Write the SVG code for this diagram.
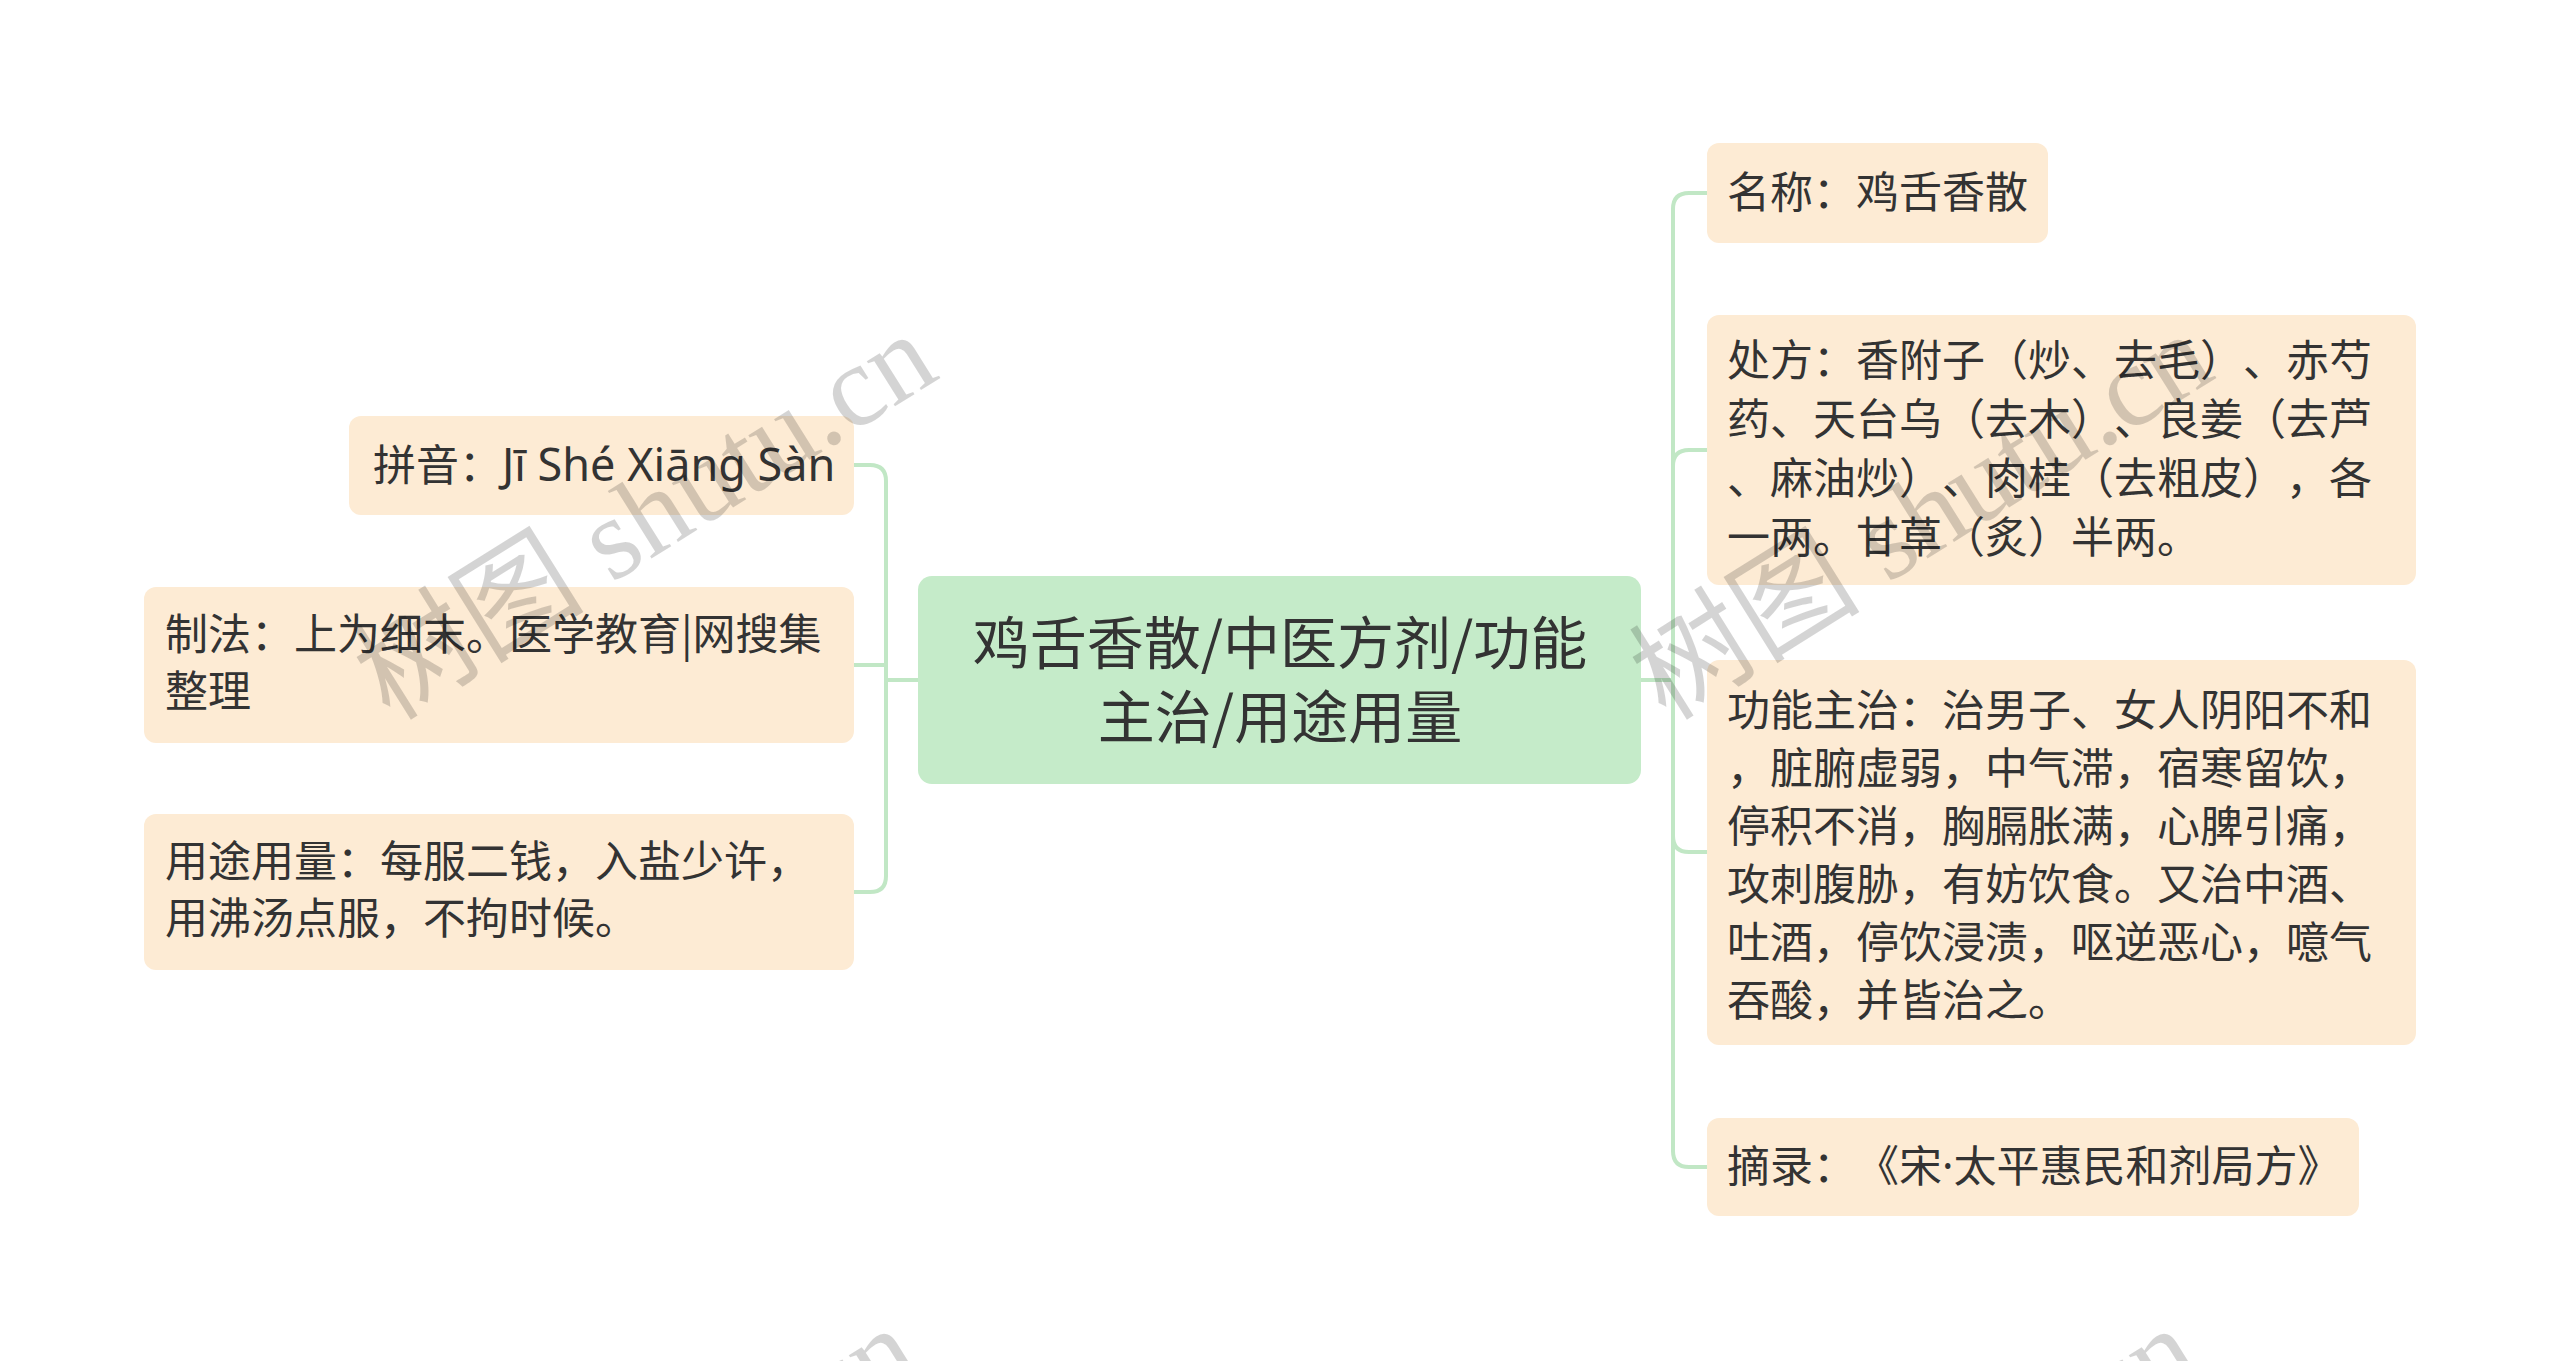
<svg xmlns="http://www.w3.org/2000/svg" xmlns:xlink="http://www.w3.org/1999/xlink" width="2560" height="1361" viewBox="0 0 2560 1361">
<style>
text{text-spacing-trim:space-all}
.leaf{fill:#fdebd4}
.root{fill:#c5ebc9}
.t{font-family:"Noto Sans CJK SC","Noto Sans",sans-serif;font-size:43px;fill:#333333}
.rt{font-family:"Noto Sans CJK SC","Noto Sans",sans-serif;font-size:57px;fill:#333333;text-anchor:middle}
.lat{font-family:"Noto Sans","Noto Sans CJK SC",sans-serif;font-size:45px}
.edge{fill:none;stroke:#c1e7c5;stroke-width:4;stroke-linejoin:round}
.wm{font-size:116px;fill:#000;fill-opacity:0.17}
.wmc{font-family:"Noto Sans CJK SC",sans-serif}
.wms{font-family:"Liberation Serif",serif}
</style>
<defs>
<text id="wm" class="wm" x="0" y="0"><tspan class="wmc">树图</tspan><tspan class="wms"> shutu.cn</tspan></text>
</defs>
<rect width="2560" height="1361" fill="#ffffff"/>
<g id="connectors">
<path class="edge" d="M1641 680 H1673 V209 Q1673 193 1689 193 H1707"/>
<path class="edge" d="M1673 680 V466 Q1673 450 1689 450 H1707"/>
<path class="edge" d="M1673 680 V836 Q1673 852 1689 852 H1707"/>
<path class="edge" d="M1673 680 V1151 Q1673 1167 1689 1167 H1707"/>
<path class="edge" d="M918 680 H886 V481 Q886 465 870 465 H854"/>
<path class="edge" d="M886 680 V665 H854"/>
<path class="edge" d="M886 680 V876 Q886 892 870 892 H854"/>
</g>
<g id="root">
<rect class="root" x="918" y="576" width="723" height="208" rx="14"/>
<text class="rt" x="1280" y="664">鸡舌香散/中医方剂/功能</text>
<text class="rt" x="1280" y="738">主治/用途用量</text>
</g>
<g id="n-pinyin">
<rect class="leaf" x="349" y="416" width="505" height="99" rx="12"/>
<text class="t" x="373" y="481">拼音：<tspan class="lat">Jī Shé Xiāng Sàn</tspan></text>
</g>
<g id="n-zhifa">
<rect class="leaf" x="144" y="587" width="710" height="156" rx="12"/>
<text class="t" x="165" y="650">制法：上为细末。医学教育|网搜集</text>
<text class="t" x="165" y="707">整理</text>
</g>
<g id="n-yongtu">
<rect class="leaf" x="144" y="814" width="710" height="156" rx="12"/>
<text class="t" x="165" y="877">用途用量：每服二钱，入盐少许，</text>
<text class="t" x="165" y="934">用沸汤点服，不拘时候。</text>
</g>
<g id="n-mingcheng">
<rect class="leaf" x="1707" y="143" width="341" height="100" rx="12"/>
<text class="t" x="1727" y="208">名称：鸡舌香散</text>
</g>
<g id="n-chufang">
<rect class="leaf" x="1707" y="315" width="709" height="270" rx="12"/>
<text class="t" x="1727" y="376">处方：香附子（炒、去毛）、赤芍</text>
<text class="t" x="1727" y="435">药、天台乌（去木）、良姜（去芦</text>
<text class="t" x="1727" y="494">、麻油炒）、肉桂（去粗皮），各</text>
<text class="t" x="1727" y="553">一两。甘草（炙）半两。</text>
</g>
<g id="n-gongneng">
<rect class="leaf" x="1707" y="660" width="709" height="385" rx="12"/>
<text class="t" x="1727" y="726">功能主治：治男子、女人阴阳不和</text>
<text class="t" x="1727" y="784">，脏腑虚弱，中气滞，宿寒留饮，</text>
<text class="t" x="1727" y="842">停积不消，胸膈胀满，心脾引痛，</text>
<text class="t" x="1727" y="900">攻刺腹胁，有妨饮食。又治中酒、</text>
<text class="t" x="1727" y="958">吐酒，停饮浸渍，呕逆恶心，噫气</text>
<text class="t" x="1727" y="1016">吞酸，并皆治之。</text>
</g>
<g id="n-zhailu">
<rect class="leaf" x="1707" y="1118" width="652" height="98" rx="12"/>
<text class="t" x="1727" y="1182">摘录：《宋<tspan font-family="Noto Sans, sans-serif">·</tspan>太平惠民和剂局方》</text>
</g>
<g id="watermarks">
<use xlink:href="#wm" transform="translate(390,722) rotate(-32)"/>
<use xlink:href="#wm" transform="translate(1666,722) rotate(-32)"/>
<use xlink:href="#wm" transform="translate(372,1716) rotate(-32)"/>
<use xlink:href="#wm" transform="translate(1652,1716) rotate(-32)"/>
</g>
</svg>
